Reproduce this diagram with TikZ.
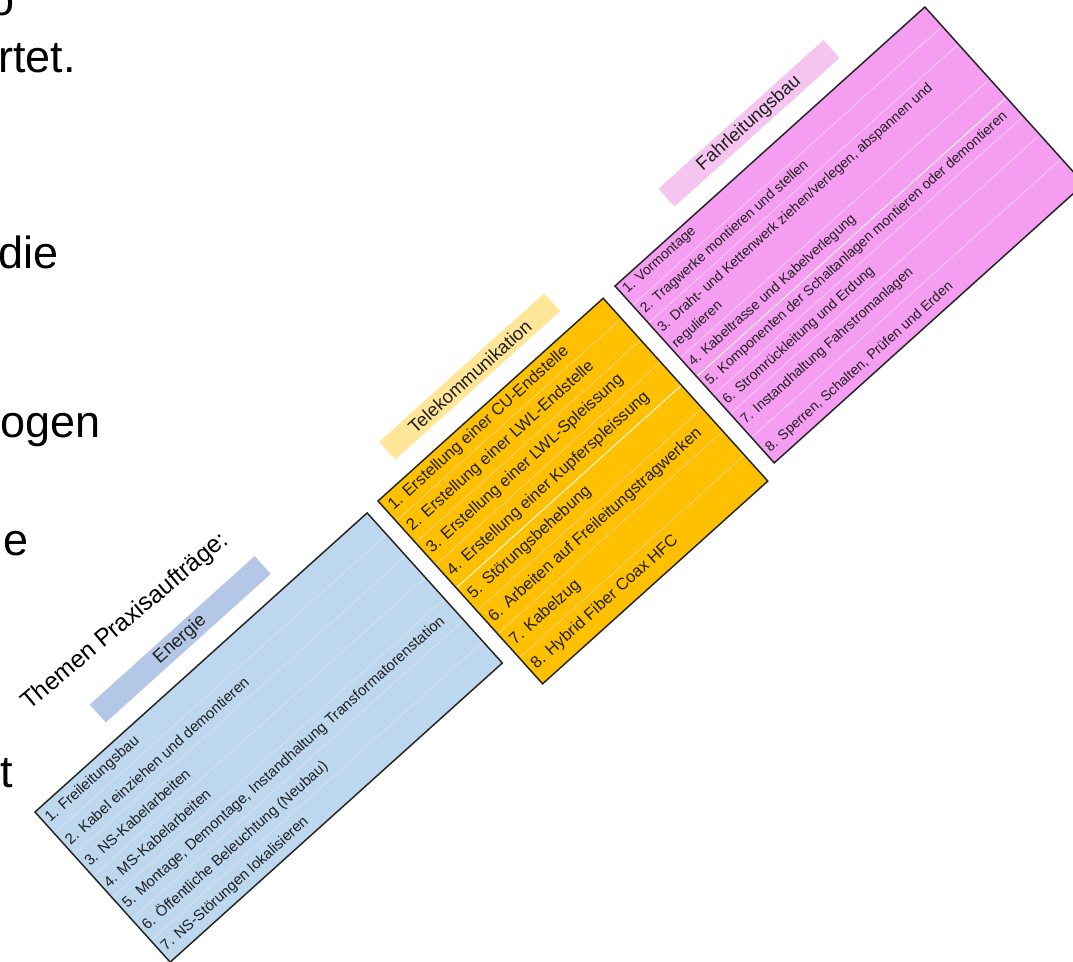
\documentclass[tikz,border=0pt]{standalone}
\usepackage{fontspec}
\setmainfont{Liberation Sans}

\definecolor{energyfill}{HTML}{BDD7EE}
\definecolor{energybar}{HTML}{B4C7E7}
\definecolor{energyrule}{HTML}{D6DFEA}
\definecolor{telefill}{HTML}{FFC000}
\definecolor{telebar}{HTML}{FFE699}
\definecolor{telerule}{HTML}{F3D27C}
\definecolor{fahrfill}{HTML}{F59DF0}
\definecolor{fahrbar}{HTML}{F5C5EF}
\definecolor{fahrrule}{HTML}{F8C9F4}
\definecolor{inktext}{HTML}{1F1F1F}
\definecolor{framecol}{HTML}{262626}

\tikzset{
  panel/.style={anchor=north west, inner sep=0pt, outer sep=0pt},
  frame/.style={draw=framecol, line width=1.5pt, line join=miter},
  headbar/.style={anchor=south, minimum width=222pt, minimum height=24pt,
    inner sep=0pt, text=inktext, font=\fontsize{18.5}{20}\selectfont},
  item/.style={anchor=west, inner sep=0pt, text=inktext},
  rowrule/.style={line width=0.9pt},
  bigtext/.style={font=\fontsize{45}{50}\selectfont, inner sep=0pt,
    anchor=base east, text=black},
}

\begin{document}
\begin{tikzpicture}[x=1pt, y=-1pt]
\path[use as bounding box] (0,0) rectangle (1073,961);
\clip (0,0) rectangle (1073,961);

% running paragraph text entering from the left margin
\node[bigtext] (fragA) at (15,15) {o};
\node[bigtext] (fragB) at (76,72) {rtet.};
\node[bigtext] (fragC) at (59,268) {die};
\node[bigtext] (fragD) at (101,437) {ogen};
\node[bigtext] (fragE) at (29,555) {e};
\node[bigtext] (fragF) at (13,787) {t};

% heading of the three topic panels
\node[font=\fontsize{24.5}{27}\selectfont, anchor=base west, rotate=40,
      inner sep=0pt] (title) at (29,711) {Themen Praxisaufträge:};

% ---------- Energie ----------
\begin{scope}[shift={(35,812)}, rotate=42, transform shape]
  \node[panel, fill=energyfill, minimum width=447pt, minimum height=202pt] (ebox) at (0,0) {};
  \foreach \k in {1,...,6}
    \draw[rowrule, energyrule] (0,{\k*28.86}) -- (447,{\k*28.86});
  \draw[frame] (ebox.north west) -- (ebox.north east) -- (ebox.south east)
               -- (ebox.south west) -- cycle;
  \node[headbar, fill=energybar] (ebar) at (223.5,-19) {Energie};
  \begin{scope}[font=\fontsize{15}{18}\selectfont]
    \node[item] (e1) at (4,14.4)  {1. Freileitungsbau};
    \node[item] (e2) at (4,43.3)  {2. Kabel einziehen und demontieren};
    \node[item] (e3) at (4,72.2)  {3. NS-Kabelarbeiten};
    \node[item] (e4) at (4,101.0) {4. MS-Kabelarbeiten};
    \node[item] (e5) at (4,129.9) {5. Montage, Demontage, Instandhaltung Transformatorenstation};
    \node[item] (e6) at (4,158.7) {6. Öffentliche Beleuchtung (Neubau)};
    \node[item] (e7) at (4,187.6) {7. NS-Störungen lokalisieren};
  \end{scope}
\end{scope}

% ---------- Telekommunikation ----------
\begin{scope}[shift={(378,501)}, rotate=42, transform shape]
  \node[panel, fill=telefill, minimum width=303pt, minimum height=246pt] (tbox) at (0,0) {};
  \foreach \y in {27,56,86,148,179,211}
    \draw[rowrule, telerule] (0,\y) -- (303,\y);
  \draw[rowrule, white] (0,117) -- (303,117);
  \draw[frame] (tbox.north west) -- (tbox.north east) -- (tbox.south east)
               -- (tbox.south west) -- cycle;
  \node[headbar, fill=telebar] (tbar) at (151.5,-19) {Telekommunikation};
  \begin{scope}[font=\fontsize{16.5}{19}\selectfont]
    \node[item] (t1) at (5,13.5)  {1. Erstellung einer CU-Endstelle};
    \node[item] (t2) at (5,41.5)  {2. Erstellung einer LWL-Endstelle};
    \node[item] (t3) at (5,71)    {3. Erstellung einer LWL-Spleissung};
    \node[item] (t4) at (5,101.5) {4. Erstellung einer Kupferspleissung};
    \node[item] (t5) at (5,132.5) {5. Störungsbehebung};
    \node[item] (t6) at (5,163.5) {6. Arbeiten auf Freileitungstragwerken};
    \node[item] (t7) at (5,195)   {7. Kabelzug};
    \node[item] (t8) at (5,227)   {8. Hybrid Fiber Coax HFC};
  \end{scope}
\end{scope}

% ---------- Fahrleitungsbau ----------
\begin{scope}[shift={(615,286)}, rotate=42, transform shape]
  \node[panel, fill=fahrfill, minimum width=417pt, minimum height=238pt] (fbox) at (0,0) {};
  \foreach \y in {26,50,97,147,172,204}
    \draw[rowrule, fahrrule] (0,\y) -- (417,\y);
  \draw[rowrule, white] (0,122) -- (417,122);
  \draw[frame] (fbox.north west) -- (fbox.north east) -- (fbox.south east)
               -- (fbox.south west) -- cycle;
  \node[headbar, fill=fahrbar] (fbar) at (208.5,-19) {Fahrleitungsbau};
  \begin{scope}[font=\fontsize{14}{16}\selectfont]
    \node[item] (f1)  at (4,11)  {1. Vormontage};
    \node[item] (f2)  at (4,37)  {2. Tragwerke montieren und stellen};
    \node[item] (f3)  at (4,63)  {3. Draht- und Kettenwerk ziehen/verlegen, abspannen und};
    \node[item] (f3b) at (4,84)  {regulieren};
    \node[item] (f4)  at (4,109) {4. Kabeltrasse und Kabelverlegung};
    \node[item] (f5)  at (4,134) {5. Komponenten der Schaltanlagen montieren oder demontieren};
    \node[item] (f6)  at (4,160) {6. Stromrückleitung und Erdung};
    \node[item] (f7)  at (4,187) {7. Instandhaltung Fahrstromanlagen};
    \node[item] (f8)  at (4,224) {8. Sperren, Schalten, Prüfen und Erden};
  \end{scope}
\end{scope}
\end{tikzpicture}
\end{document}
